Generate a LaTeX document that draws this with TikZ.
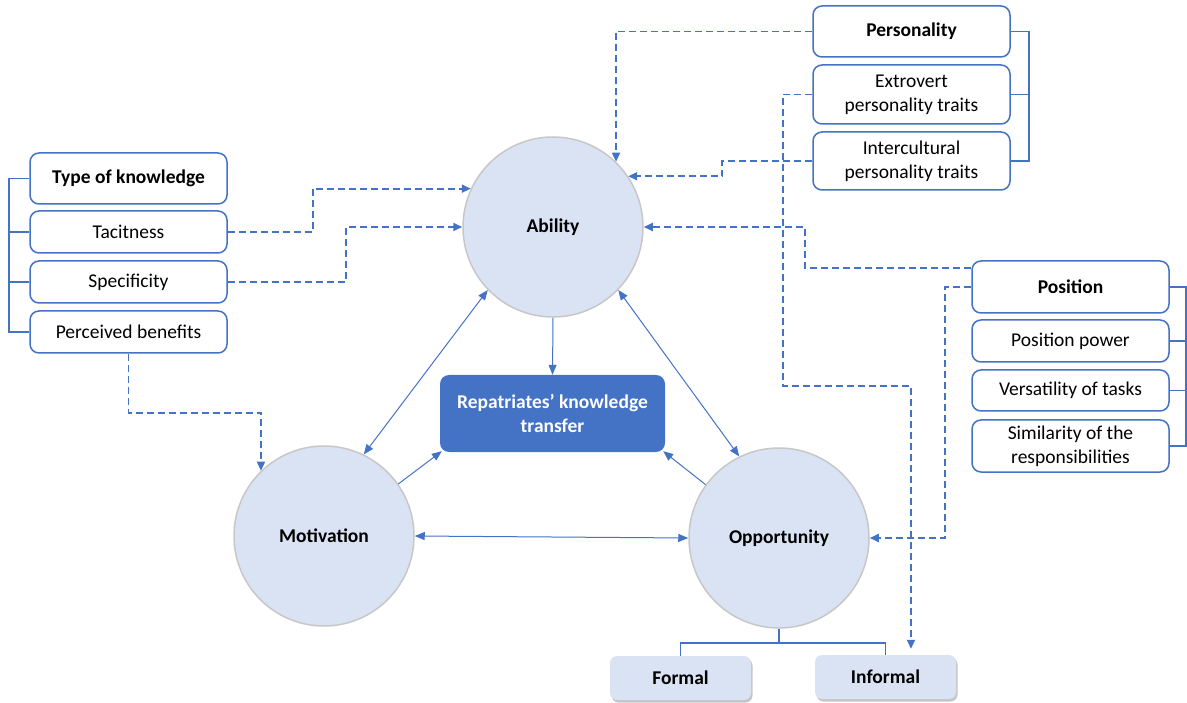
\documentclass[tikz,border=0pt]{standalone}
\usepackage{fontspec}
\setmainfont{Carlito}
\usetikzlibrary{shadows,arrows.meta}
\definecolor{accent}{HTML}{4472C4}
\definecolor{paleblue}{HTML}{DAE3F3}

\begin{document}
\begin{tikzpicture}[x=1pt,y=-1pt,
  font=\fontsize{19.5}{24}\selectfont,
  factor/.style={draw=accent, line width=1.5pt, rounded corners=9pt, fill=white,
    align=center, inner sep=0pt, minimum width=197pt, text=black},
  headbox/.style={factor, font=\fontsize{19.5}{24}\selectfont\bfseries},
  construct/.style={circle, fill=paleblue, draw=black!22, line width=1.5pt,
    minimum size=180pt, inner sep=0pt, font=\fontsize{19.5}{24}\selectfont\bfseries},
  modebox/.style={rounded corners=7pt, fill=paleblue, inner sep=0pt,
    minimum width=141pt, minimum height=44pt, font=\fontsize{19.5}{24}\selectfont\bfseries,
    drop shadow={shadow xshift=1.5pt, shadow yshift=-2.5pt, fill=black!45, opacity=0.5}},
  outcome/.style={rounded corners=9pt, fill=accent, text=white, align=center,
    inner sep=0pt, minimum width=225pt, minimum height=77pt,
    font=\fontsize{19.5}{24}\selectfont\bfseries},
  influence/.style={draw=accent, line width=1.8pt, dash pattern=on 7pt off 4pt,
    -{Triangle[length=9pt,width=8pt]}},
  link/.style={draw=accent, line width=1pt, -{Triangle[length=10pt,width=8pt]}},
  twoway/.style={draw=accent, line width=1pt, {Triangle[length=10pt,width=8pt]}-{Triangle[length=10pt,width=8pt]}},
  bracket/.style={draw=accent, line width=1.8pt},
]
\useasboundingbox (0,0) rectangle (1187,703);

% core constructs
\node[construct] (ab) at (553,227) {Ability};
\node[construct] (mo) at (324,536) {Motivation};
\node[construct] (op) at (779,538) {Opportunity};
\node[outcome] (rkt) at (552.5,413.5) {Repatriates’ knowledge\\transfer};

% type of knowledge
\node[headbox, minimum height=51pt] (tk) at (128.5,178.5) {Type of knowledge};
\node[factor, minimum height=42pt] (tac) at (128.5,232) {Tacitness};
\node[factor, minimum height=42pt] (spec) at (128.5,282) {Specificity};
\node[factor, minimum height=42pt] (pb) at (128.5,332) {Perceived benefits};

% personality
\node[headbox, minimum height=51pt] (pers) at (911.5,31.5) {Personality};
\node[factor, minimum height=59pt] (extr) at (911.5,94.5) {Extrovert\\personality traits};
\node[factor, minimum height=58pt] (intc) at (911.5,161) {Intercultural\\personality traits};

% position
\node[headbox, minimum height=52pt] (pos) at (1070.5,287) {Position};
\node[factor, minimum height=42pt] (pp) at (1070.5,341) {Position power};
\node[factor, minimum height=41pt] (vt) at (1070.5,390.5) {Versatility of tasks};
\node[factor, minimum height=52pt] (sim) at (1070.5,446) {Similarity of the\\responsibilities};

% forms of opportunity
\node[modebox] (formal) at (680.5,678) {Formal};
\node[modebox] (informal) at (885.5,677) {Informal};

% grouping brackets
\draw[bracket] (tk.west) -- ++(-20,0) |- (pb.west);
\draw[bracket] (tac.west) -- ++(-20,0);
\draw[bracket] (spec.west) -- ++(-20,0);
\draw[bracket] (pers.east) -- ++(18,0) |- (intc.east);
\draw[bracket] (extr.east) -- ++(18,0);
\draw[bracket] (pos.east) -- ++(16,0) |- (sim.east);
\draw[bracket] (pp.east) -- ++(16,0);
\draw[bracket] (vt.east) -- ++(16,0);
\draw[bracket] (op.south) -- ++(0,14) coordinate (split) -| (formal.north);
\draw[bracket] (split) -| (informal.north);

% dashed influences
\draw[influence] (tac.east) -- ++(85,0) |- (ab.155);
\draw[influence] (spec.east) -- ++(118,0) |- (ab.west);
\draw[influence] (pb.south) -- ++(0,59) -| (mo.134);
\draw[influence] (pers.west) -| (ab.46);
\draw[influence] (intc.west) -- ++(-90,0) |- (ab.34);
\draw[influence] (extr.west) -| (783,386) -| ([xshift=25.5pt,yshift=6pt]informal.north);
\draw[influence] ([yshift=19pt]pos.west) -- ++(-166,0) |- (ab.east);
\draw[influence] (pos.west) -- ++(-26,0) |- (op.east);

% solid relations
\draw[link] (ab.south) -- (rkt.north);
\draw[twoway] (ab.224) -- (mo.64);
\draw[twoway] (ab.316) -- (op.116);
\draw[link] (mo.35) -- ([xshift=2pt,yshift=1pt]rkt.south west);
\draw[link] (op.144) -- ([xshift=-2pt,yshift=1pt]rkt.south east);
\draw[twoway] (mo.east) -- (op.west);
\end{tikzpicture}
\end{document}
